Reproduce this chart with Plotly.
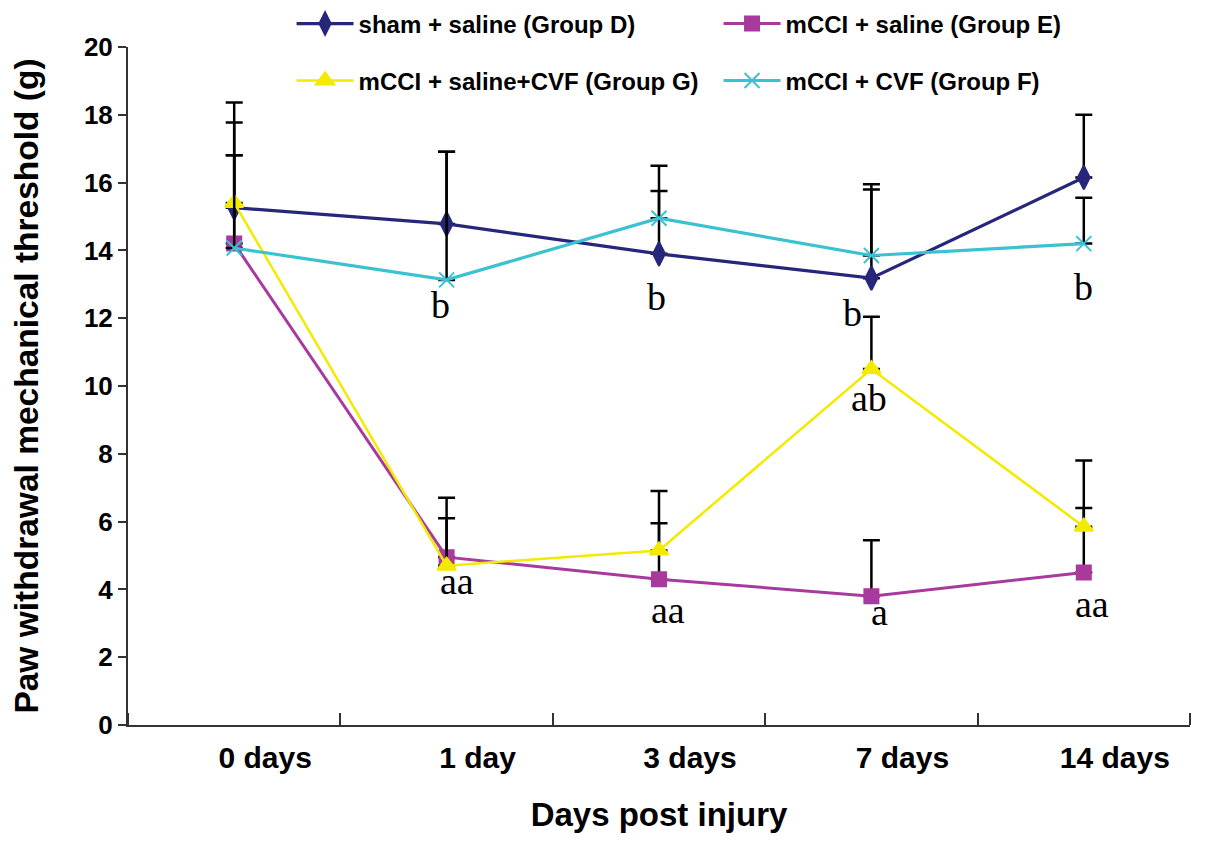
import plotly.graph_objects as go

days = ["0 days", "1 day", "3 days", "7 days", "14 days"]
xpos = [0, 1, 2, 3, 4]

sham_saline_d = [15.26, 14.78, 13.9, 13.18, 16.15]
sham_saline_d_top = [18.36, 16.91, 15.75, 15.95, 18.0]

mcci_saline_e = [14.2, 4.95, 4.3, 3.8, 4.5]
mcci_saline_e_top = [16.81, 6.7, 5.95, 5.45, 6.4]

mcci_saline_cvf_g = [15.4, 4.7, 5.15, 10.5, 5.85]
mcci_saline_cvf_g_top = [16.81, 6.1, 6.9, 12.04, 7.8]

mcci_cvf_f = [14.07, 13.13, 14.95, 13.85, 14.2]
mcci_cvf_f_top = [17.77, 16.91, 16.5, 15.8, 15.55]

# significance letters
sig_x = [1, 2, 3, 4, 3, 1, 2, 3, 4]
sig_y = [12.4, 12.63, 12.15, 12.92, 9.65, 4.25, 3.38, 3.32, 3.58]
sig_text = ["b", "b", "b", "b", "ab", "aa", "aa", "a", "aa"]
sig_dx = [-0.03, -0.01, -0.09, 0.0, -0.01, 0.05, 0.04, 0.04, 0.04]

FONT = "Liberation Sans, Arial, sans-serif"


def series(name, y, top, color, symbol, size, width, legend):
    return go.Scatter(
        x=xpos, y=y, mode="lines+markers", name=name, legend=legend,
        line=dict(color=color, width=width),
        marker=dict(color=color, symbol=symbol, size=size,
                    line=dict(color=color, width=2)),
        error_y=dict(type="data", symmetric=False,
                     array=[t - v for t, v in zip(top, y)],
                     arrayminus=[0] * len(y),
                     color="black", thickness=2.5, width=8.5),
    )


fig = go.Figure()
fig.add_trace(series("sham + saline (Group D)", sham_saline_d, sham_saline_d_top,
                     "#26267a", "diamond-tall", 17, 3.2, "legend"))
fig.add_trace(series("mCCI + saline (Group E)", mcci_saline_e, mcci_saline_e_top,
                     "#a83a9e", "square", 14, 3, "legend"))
fig.add_trace(series("mCCI + saline+CVF (Group G)", mcci_saline_cvf_g, mcci_saline_cvf_g_top,
                     "#f3ea00", "triangle-up", 16, 2.5, "legend2"))
fig.add_trace(series("mCCI + CVF (Group F)", mcci_cvf_f, mcci_cvf_f_top,
                     "#3ac1d2", "x-thin", 15, 3.2, "legend2"))

for xi, yi, t, dx in zip(sig_x, sig_y, sig_text, sig_dx):
    fig.add_annotation(x=xi + dx, y=yi, text=t, showarrow=False,
                       font=dict(family="Liberation Serif, Times New Roman, serif",
                                 size=38, color="black"))

legend_common = dict(orientation="h", xanchor="left", yanchor="middle",
                     entrywidth=355, itemwidth=57, bgcolor="rgba(0,0,0,0)",
                     font=dict(family=FONT, size=24, color="black", weight="bold"))

# page body has an 8px margin, so the figure is a little smaller than the window
fig.update_layout(
    width=1197, height=836,
    paper_bgcolor="white", plot_bgcolor="white",
    margin=dict(l=120, r=15, t=39, b=119, autoexpand=False),
    legend=dict(x=0.154, y=1.034, **legend_common),
    legend2=dict(x=0.154, y=0.950, **legend_common),
    xaxis=dict(
        range=[-0.5, 4.5], tickvals=xpos, ticktext=days,
        ticks="", ticklabelshift=31, ticklabelstandoff=5,
        tickfont=dict(family=FONT, size=30, color="black", weight="bold"),
        minor=dict(tick0=0.5, dtick=1, ticks="inside", ticklen=12,
                   tickwidth=1.5, tickcolor="#333"),
        showline=True, linecolor="#333", linewidth=2, showgrid=False, zeroline=False,
        title=dict(text="Days post injury", standoff=30,
                   font=dict(family=FONT, size=33, color="black", weight="bold")),
    ),
    yaxis=dict(
        range=[0, 20], tickvals=list(range(0, 21, 2)),
        ticks="outside", ticklen=8, tickwidth=1.5, tickcolor="#333",
        tickfont=dict(family=FONT, size=26, color="black", weight="bold"),
        showline=True, linecolor="#333", linewidth=2, showgrid=False, zeroline=False,
        title=dict(text="Paw withdrawal mechanical threshold (g)", standoff=38,
                   font=dict(family=FONT, size=33.5, color="black", weight="bold")),
    ),
)

fig.write_html("out.html")
